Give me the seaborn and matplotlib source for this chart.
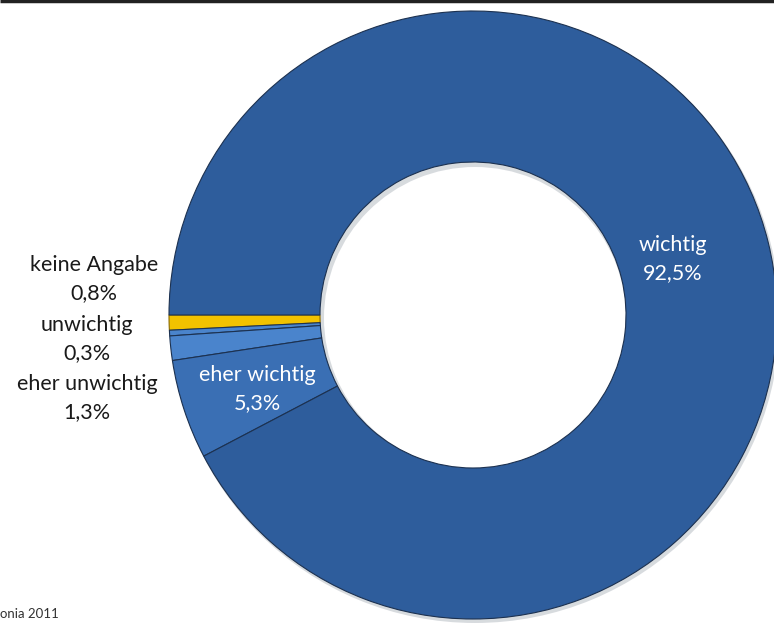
import matplotlib
matplotlib.use("Agg")
import matplotlib.pyplot as plt
from matplotlib.patches import Wedge
import seaborn as sns

# Answer shares (percent), drawn counter-clockwise from 9 o'clock
categories = ["keine Angabe", "unwichtig", "eher unwichtig", "eher wichtig", "wichtig"]
shares = [0.8, 0.3, 1.3, 5.3, 92.5]
share_labels = ["0,8%", "0,3%", "1,3%", "5,3%", "92,5%"]
colors = ["#F2C200", "#4A84CC", "#4A84CC", "#3A6FB4", "#2E5D9C"]

sns.set_theme(style="white")
plt.rcParams["font.family"] = ["Lato", "DejaVu Sans"]

W, H = 774, 623
fig = plt.figure(figsize=(W / 100, H / 100), dpi=100)
ax = fig.add_axes([0, 0, 1, 1])

cx, cy = 473, H - 315
r_out, width = 304, 151

# soft shadow beneath the ring
ax.add_patch(Wedge((cx + 2, cy - 3), r_out + 1, 0, 360, width=width + 3,
                   color="#8f98a3", alpha=0.35, zorder=0, linewidth=0))

wedges, _ = ax.pie(
    shares,
    colors=colors,
    startangle=180,
    counterclock=True,
    center=(cx, cy),
    radius=r_out,
    wedgeprops=dict(width=width, edgecolor="#1C3150", linewidth=0.8),
    frame=True,
)
ax.set_xlim(0, W)
ax.set_ylim(0, H)
ax.set_aspect("equal")
ax.axis("off")
wedges[0].set_edgecolor("#8a6a00")

txt = dict(fontsize=15.5, ha="center", va="center", linespacing=1.45)

# labels inside the ring
ax.text(673, H - 259, f"{categories[4]}\n{share_labels[4]}", color="white", **txt)
ax.text(257, H - 389, f"{categories[3]}\n{share_labels[3]}", color="white", **txt)

# labels left of the ring
ax.text(94, H - 279, f"{categories[0]}\n{share_labels[0]}", color="#1a1a1a", **txt)
ax.text(87, H - 339, f"{categories[1]}\n{share_labels[1]}", color="#1a1a1a", **txt)
ax.text(87, H - 398, f"{categories[2]}\n{share_labels[2]}", color="#1a1a1a", **txt)

# source note and top rule
ax.text(0, H - 614, "onia 2011", fontsize=9.5, color="#333333", ha="left", va="center")
ax.plot([0, W], [H - 1, H - 1], color="#222222", linewidth=2.5, solid_capstyle="butt")

fig.savefig("out.png", dpi=100, facecolor="white")
